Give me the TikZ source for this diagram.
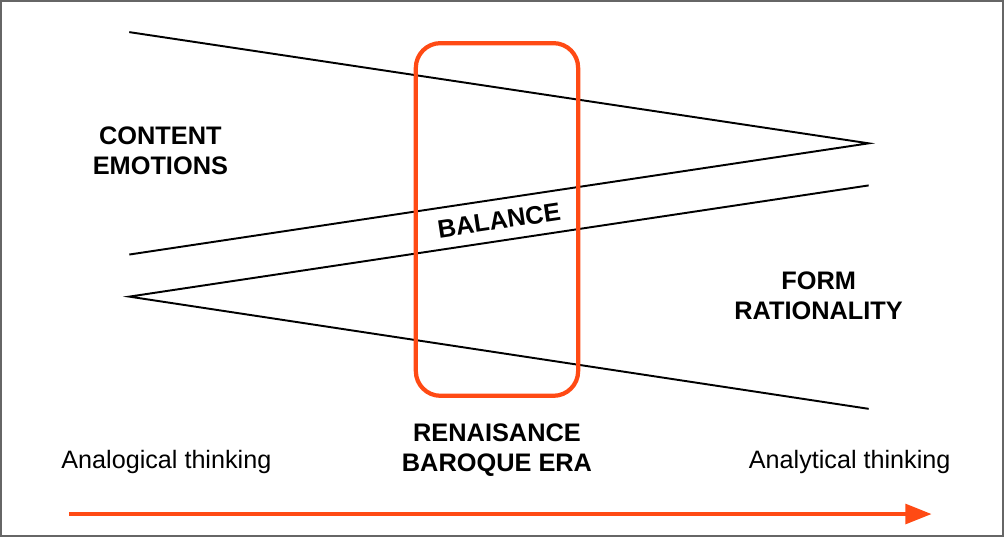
\documentclass[tikz,border=0pt]{standalone}
\usepackage{fontspec}
\setmainfont{Liberation Sans}
\usetikzlibrary{arrows.meta}
\definecolor{redorange}{HTML}{FF4A14}
\begin{document}
\begin{tikzpicture}[x=0.02cm, y=-0.02cm,
                    big label/.style={align=center,font=\fontsize{14.4}{17}\selectfont\bfseries},
                    small label/.style={font=\fontsize{14.3}{17}\selectfont},
                    thin line/.style={line width=1.1pt}]

  \draw[gray!80!black, line width=1.2pt] (2,2) rectangle (1002,536);

  \coordinate (tl) at (130,33);
  \coordinate (ml) at (130,255);
  \coordinate (bl) at (130,297);
  \coordinate (tr) at (868,144);
  \coordinate (mr) at (868,186);
  \coordinate (br) at (868,409);

  \draw[thin line] (tl) -- (tr) -- (ml);
  \draw[thin line] (mr) -- (bl) -- (br);

  \draw[redorange, line width=2.4pt, rounded corners=14pt] (416,44) rectangle (578,396);

  \node[big label] (content) at (161,151) {CONTENT\\EMOTIONS};
  \node[big label] (form) at (818,296) {FORM\\RATIONALITY};
  \node[big label, rotate=8.55] (balance) at (499,221) {BALANCE};
  \node[big label] (era) at (497,450) {RENAISANCE\\BAROQUE ERA};

  \node[small label] (analog) at (167,462) {Analogical thinking};
  \node[small label] (analyt) at (849,462) {Analytical thinking};

  \coordinate (start) at (70,514);
  \coordinate (stop) at (931,514);
  \draw[redorange, line width=2.6pt, -{Triangle[length=15pt,width=11pt]}] (start) -- (stop);

\end{tikzpicture}
\end{document}
